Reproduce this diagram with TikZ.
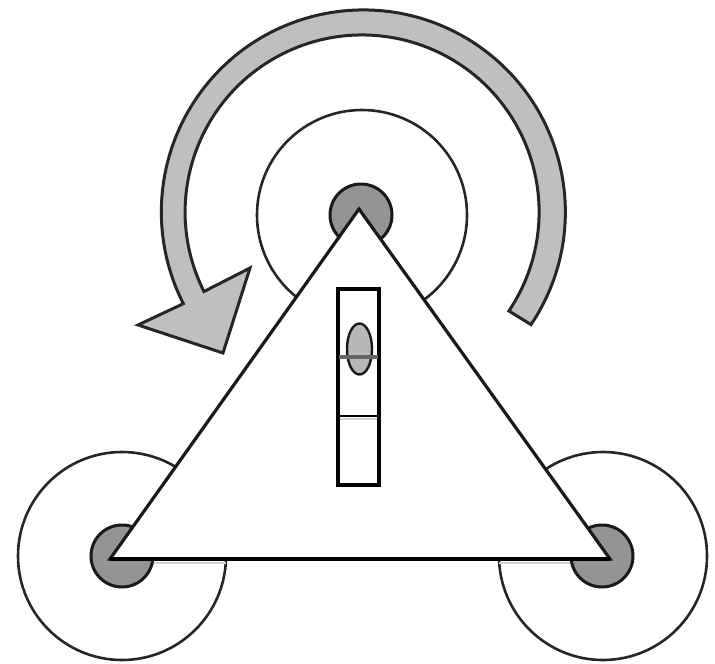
\documentclass[tikz,border=0pt]{standalone}
\tikzset{
  ring/.style={draw=black!85,line width=2.6pt,fill=white},
  hub/.style={draw=black!90,line width=3pt,fill=black!42},
  plate/.style={draw=black!90,line width=3.2pt,fill=white,line join=miter},
  sweep/.style={draw=black!85,line width=3pt,fill=black!25,line join=miter},
}
\begin{document}
\begin{tikzpicture}[x=1pt,y=-1pt]
\useasboundingbox (0,0) rectangle (715,664);
% foot rings
\draw[ring] (122,556) circle (104);
\draw[ring] (603,556) circle (104);
\draw[ring] (362,215) circle (105);
% hubs
\draw[hub] (122,556) circle (31);
\draw[hub] (602,556) circle (31);
\draw[hub] (361,215) circle (31);
% triangle
\draw[plate] (359,209) -- (610,559) -- (110,559) -- cycle;
\draw[line width=4pt,black] (110,559) -- (610,559);
\draw[line width=2pt,black!18] (154,563) -- (226,563);
\draw[line width=2pt,black!18] (499,563) -- (570,563);
% rotation arrow
\draw[sweep] (531,324.6) arc[start angle=33.9,end angle=-207,radius=202]
  -- (138,325) -- (223,353) -- (250,268) -- (204,291.5)
  arc[start angle=-206.7,end angle=34,radius=177] -- cycle;
% level
\draw[line width=3.5pt,black,fill=white] (338,289) rectangle (379,485);
\draw[draw=black!90,line width=2.4pt,fill=black!28] (359.5,349) ellipse (12.5 and 25.5);
\draw[line width=4pt,black!60] (339,357) -- (378,357);
\draw[line width=2.2pt,black] (339,416) -- (378,416);
\draw[line width=2pt,black!18] (340,419) -- (377,419);
\end{tikzpicture}
\end{document}
